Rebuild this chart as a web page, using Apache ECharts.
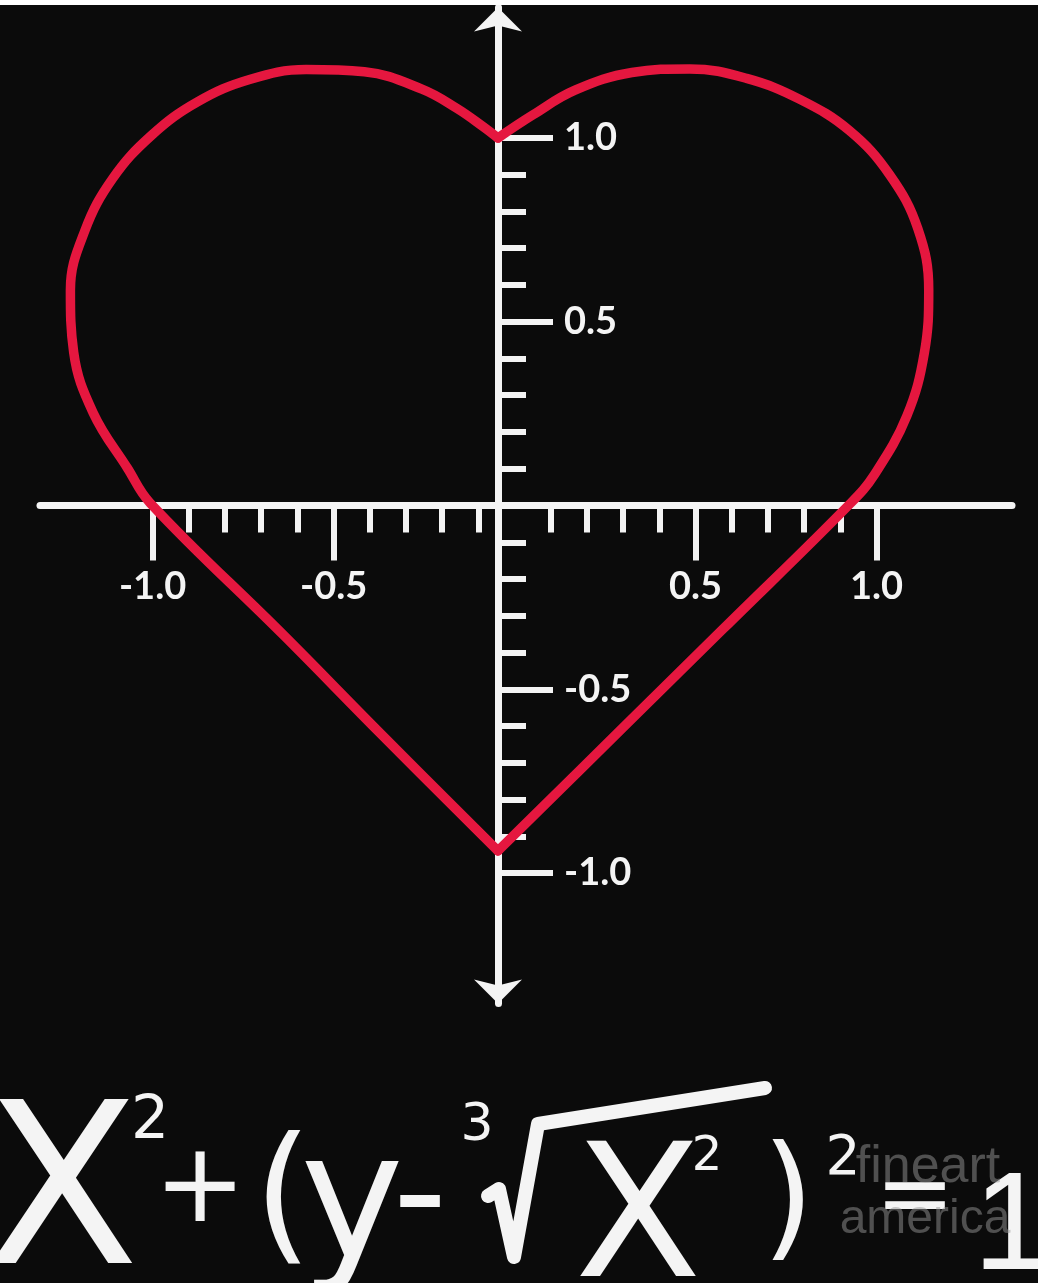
<!DOCTYPE html>
<html>
<head>
<meta charset="utf-8">
<script src="https://cdn.jsdelivr.net/npm/echarts@6/dist/echarts.min.js"></script>
<style>
  html, body { margin: 0; padding: 0; background: #fff; }
  #chartDom { width: 1038px; height: 1283px; }
</style>
</head>
<body>
<div id="chartDom"></div>
<script>
// heart outline read off the picture, x measured from the vertical axis
// right half: top cusp -> right lobe -> bottom tip
var heartRight = [
  [0, 1.00], [0.097, 1.063], [0.213, 1.130], [0.370, 1.178], [0.530, 1.188],
  [0.687, 1.162], [0.834, 1.105], [0.971, 1.020], [1.082, 0.900], [1.160, 0.753],
  [1.190, 0.586], [1.178, 0.416], [1.130, 0.245], [1.040, 0.084], [0.974, 0.006],
  [0.622, -0.336], [0.346, -0.604], [0, -0.94]
];
// left half: top cusp -> left lobe -> bottom tip
var heartLeft = [
  [0, 1.00], [-0.041, 1.031], [-0.114, 1.081], [-0.210, 1.133], [-0.369, 1.180],
  [-0.530, 1.186], [-0.686, 1.159], [-0.830, 1.098], [-0.957, 1.007], [-1.064, 0.890],
  [-1.141, 0.748], [-1.181, 0.586], [-1.172, 0.417], [-1.118, 0.252], [-1.023, 0.101],
  [-0.961, 0.007], [-0.59, -0.355], [-0.32, -0.625], [0, -0.94]
];

var majorTicks = [-1, -0.5, 0.5, 1];
var tickLabels = ['-1.0', '-0.5', '0.5', '1.0'];
var xMinorTicks = [-0.9, -0.8, -0.7, -0.6, -0.4, -0.3, -0.2, -0.1, 0.1, 0.2, 0.3, 0.4, 0.6, 0.7, 0.8, 0.9];
var yMinorTicks = [-0.9, -0.8, -0.7, -0.6, -0.4, -0.3, -0.2, -0.1, 0.1, 0.2, 0.3, 0.4, 0.6, 0.7, 0.8, 0.9];

var xHeartRange = [-1.265, 1.42];  // 0 sits on the drawn vertical axis
var xTickRange = [-1.311, 1.374];  // the hand drawn ticks are shifted a bit right
var yRange = [-1.355, 1.355];

var white = '#f4f4f4';
var red = '#e5173f';

// grid box and where the two axis lines sit inside it (px)
var gridBox = { left: 40, right: 26, top: 7.5, bottom: 279.5, containLabel: false, outerBoundsMode: 'none' };
var yAxisShift = -(498 - 40);        // left edge -> vertical axis
var xAxisShift = -(1003.5 - 505.5);  // bottom edge -> horizontal axis

function labelText(v) {
  var i = majorTicks.indexOf(v);
  return i >= 0 ? tickLabels[i] : v.toFixed(1);
}

var grids = [0, 1, 2, 3].map(function () { return Object.assign({}, gridBox); });
var labelFont = { color: white, fontFamily: 'Lato', fontWeight: 'bold', fontSize: 38 };

function hiddenX(grid, range) {
  return { type: 'value', gridIndex: grid, min: range[0], max: range[1], show: false,
           axisLine: { onZero: false }, splitLine: { show: false } };
}
function hiddenY(grid) {
  return { type: 'value', gridIndex: grid, min: yRange[0], max: yRange[1], show: false,
           axisLine: { onZero: false }, splitLine: { show: false } };
}

// formula under the chart, one glyph at a time
var formulaParts = [
  ['X', 62, 1205, 225, 'DejaVu Sans'], ['2', 150, 1122, 60, 'DejaVu Sans'],
  ['+', 200, 1192, 110, 'DejaVu Sans'], ['(', 283, 1205, 150, 'DejaVu Sans'],
  ['y', 352, 1212, 175, 'DejaVu Sans'], ['-', 420, 1203, 150, 'DejaVu Sans'],
  ['3', 477, 1126, 52, 'DejaVu Sans'], ['X', 638, 1228, 185, 'DejaVu Sans'],
  ['2', 707, 1158, 48, 'DejaVu Sans'], [')', 788, 1207, 135, 'DejaVu Sans'],
  ['2', 843, 1160, 55, 'DejaVu Sans'], ['=', 915, 1200, 95, 'DejaVu Sans'],
  ['1', 1012, 1230, 140, 'Liberation Sans']
];

var graphics = [
  { type: 'rect', shape: { x: 0, y: 0, width: 1038, height: 5 }, style: { fill: '#ffffff' }, z: 100 }
];
formulaParts.forEach(function (p) {
  graphics.push({
    type: 'text', x: p[1], y: p[2], z: 50,
    style: { text: p[0], fill: white, fontFamily: p[4], fontSize: p[3],
             align: 'center', verticalAlign: 'middle' }
  });
});
graphics.push({
  type: 'polyline', z: 50,
  shape: { points: [[488, 1196], [499, 1189], [514, 1257], [538, 1124], [765, 1088]] },
  style: { stroke: white, lineWidth: 14, fill: null, lineJoin: 'round', lineCap: 'round' }
});
graphics.push({
  type: 'text', x: 928, y: 1168, z: 60,
  style: { text: 'fineart', fill: 'rgba(150,150,150,0.5)', fontFamily: 'Liberation Sans',
           fontSize: 52, align: 'center', verticalAlign: 'middle' }
});
graphics.push({
  type: 'text', x: 925, y: 1220, z: 60,
  style: { text: 'america', fill: 'rgba(150,150,150,0.5)', fontFamily: 'Liberation Sans',
           fontSize: 48, align: 'center', verticalAlign: 'middle' }
});

var chartDom = echarts.init(document.getElementById('chartDom'), null, { renderer: 'canvas' });
chartDom.setOption({
  backgroundColor: '#0b0b0b',
  animation: false,
  grid: grids,
  xAxis: [
    hiddenX(0, xHeartRange),
    hiddenX(1, xHeartRange),
    {
      type: 'value', gridIndex: 2, min: xTickRange[0], max: xTickRange[1],
      position: 'bottom', offset: xAxisShift,
      axisLine: { show: true, onZero: false, lineStyle: { color: white, width: 7 } },
      axisTick: { show: true, customValues: majorTicks, length: 55, lineStyle: { color: white, width: 6 } },
      axisLabel: Object.assign({ show: true, customValues: majorTicks, margin: 62, formatter: labelText }, labelFont),
      splitLine: { show: false }
    },
    {
      type: 'value', gridIndex: 3, min: xTickRange[0], max: xTickRange[1],
      position: 'bottom', offset: xAxisShift,
      axisLine: { show: false, onZero: false },
      axisTick: { show: true, customValues: xMinorTicks, length: 27, lineStyle: { color: white, width: 6 } },
      axisLabel: { show: false },
      splitLine: { show: false }
    }
  ],
  yAxis: [
    {
      type: 'value', gridIndex: 0, min: yRange[0], max: yRange[1],
      position: 'left', offset: yAxisShift,
      axisLine: { show: true, onZero: false, symbol: ['arrow', 'arrow'], symbolSize: [36, 24],
                  lineStyle: { color: white, width: 7 } },
      axisTick: { show: true, inside: true, customValues: majorTicks, length: 55,
                  lineStyle: { color: white, width: 6 } },
      axisLabel: Object.assign({ show: true, inside: true, customValues: majorTicks, margin: 66,
                  formatter: labelText }, labelFont),
      splitLine: { show: false }
    },
    {
      type: 'value', gridIndex: 1, min: yRange[0], max: yRange[1],
      position: 'left', offset: yAxisShift,
      axisLine: { show: false, onZero: false },
      axisTick: { show: true, inside: true, customValues: yMinorTicks, length: 28,
                  lineStyle: { color: white, width: 6 } },
      axisLabel: { show: false },
      splitLine: { show: false }
    },
    hiddenY(2),
    hiddenY(3)
  ],
  series: [
    {
      name: 'right half', type: 'line', xAxisIndex: 0, yAxisIndex: 0, data: heartRight,
      smooth: 0.4, symbol: 'none', silent: true, z: 10,
      lineStyle: { color: red, width: 9.5, cap: 'round', join: 'round' }
    },
    {
      name: 'left half', type: 'line', xAxisIndex: 0, yAxisIndex: 0, data: heartLeft,
      smooth: 0.4, symbol: 'none', silent: true, z: 10,
      lineStyle: { color: red, width: 9.5, cap: 'round', join: 'round' }
    }
  ],
  graphic: graphics
});
</script>
</body>
</html>
